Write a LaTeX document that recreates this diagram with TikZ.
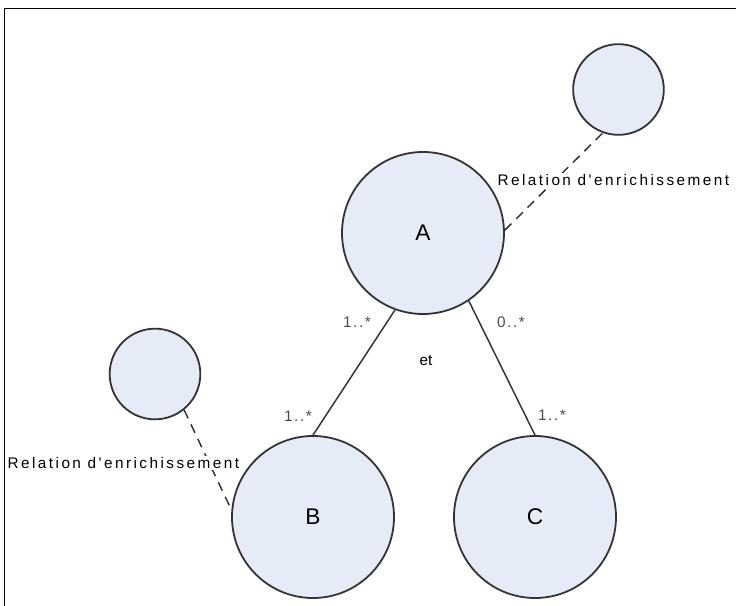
\documentclass[tikz,border=0pt]{standalone}
\usepackage{fontspec}
\setmainfont{Liberation Sans}
\newfontfamily\relfont[LetterSpace=16]{Liberation Sans}
\newfontfamily\multfont[LetterSpace=10]{Liberation Sans}
\usetikzlibrary{positioning}
\definecolor{EntityFill}{HTML}{E6ECF7}
\definecolor{EntityLine}{HTML}{333333}
\definecolor{MultGray}{HTML}{4A4A4A}
\tikzset{entity/.style={circle,draw=EntityLine,fill=EntityFill,line width=1.35pt,inner sep=0pt,minimum size=121.5pt,font=\fontsize{17}{17}\selectfont},
  extent/.style={entity,minimum size=68pt},
  link/.style={EntityLine,line width=1.1pt},
  enrich/.style={link,dash pattern=on 7pt off 5pt},
  mult/.style={font=\multfont\fontsize{11.5}{13}\selectfont,text=MultGray,inner sep=0pt},
  rellabel/.style={font=\relfont\fontsize{11.5}{13}\selectfont,fill=white,inner sep=1pt}}

\begin{document}
\begin{tikzpicture}[x=0.75pt,y=-0.75pt]
\useasboundingbox (0,0) rectangle (736,606);
\draw[line width=1.3pt] (4.5,606) -- (4.5,8.5) -- (736,8.5);
% entities
\node[entity] (A) at (423,233) {A};
\node[entity] (B) at (313,517) {B};
\node[entity] (C) at (535,517) {C};
\node[extent] (enrA) at (618.5,89.5) {};
\node[extent] (enrB) at (155,374) {};
% associations
\draw[link] (A.-110) -- (B.north);
\draw[link] (A.-56) -- (C.north);
\draw[enrich] (A.2) -- (enrA.-110);
\draw[enrich] (enrB.-51) -- (B.175);
% labels
\node[mult] (mAB) at (357,322) {1..*};
\node[mult] (mAC) at (511,322) {0..*};
\node[mult] (mBA) at (298,416) {1..*};
\node[mult] (mCA) at (552,415) {1..*};
\node[font=\fontsize{11.5}{13}\selectfont] (et) at (426,361) {et};
\node[rellabel,anchor=west] (relA) at (496,180) {Relation d'enrichissement};
\node[rellabel,anchor=west] (relB) at (6,463) {Relation d'enrichissement};
\end{tikzpicture}
\end{document}
